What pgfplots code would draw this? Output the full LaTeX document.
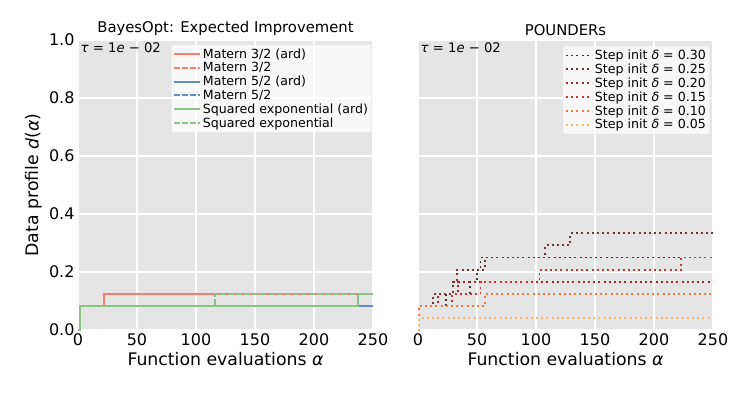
\documentclass[border=0pt]{standalone}
\usepackage{fontspec}
\setmainfont{DejaVu Sans}
\usepackage{pgfplots}
\pgfplotsset{compat=1.18}

\definecolor{bggray}{HTML}{E5E5E5}
\definecolor{mat3}{RGB}{248,124,108}
\definecolor{mat5}{RGB}{96,140,196}
\definecolor{sqexp}{RGB}{140,194,138}
\definecolor{dA}{RGB}{58,52,52}
\definecolor{dB}{RGB}{110,52,52}
\definecolor{dC}{RGB}{160,40,45}
\definecolor{dD}{RGB}{215,45,55}
\definecolor{dE}{RGB}{244,120,58}
\definecolor{dF}{RGB}{253,182,110}

\pgfplotsset{
  ggplot/.style={
    scale only axis, width=295pt, height=290pt,
    xmin=0, xmax=250, ymin=0, ymax=1,
    axis background/.style={fill=bggray},
    axis line style={draw=none},
    grid=major, major grid style={white, line width=1.1pt},
    major tick length=0pt,
    xtick={0,50,...,250}, ytick={0,0.2,0.4,0.6,0.8,1.0},
    /pgf/number format/assume math mode=true,
    tick label style={font=\fontsize{16}{18}\selectfont},
    yticklabel style={/pgf/number format/fixed, /pgf/number format/fixed zerofill,
      /pgf/number format/precision=1},
    label style={font=\fontsize{17.3}{20}\selectfont},
    xlabel={Function evaluations \textit{α}},
    title style={font=\fontsize{14.8}{17}\selectfont, yshift=-5pt},
    legend cell align=left,
    legend style={fill=white, fill opacity=0.7, text opacity=1, draw=black!12,
      rounded corners=2pt, font=\fontsize{12.6}{14}\selectfont,
      row sep=-1.2pt, inner sep=2pt},
    legend image code/.code={\draw[#1] (0pt,0pt) -- (26pt,0pt);},
  },
  solidln/.style={const plot, line width=1.8pt, solid},
  dashln/.style={const plot, line width=1.8pt, dash pattern=on 5.5pt off 2.6pt},
  dotln/.style={const plot, line width=1.9pt, dash pattern=on 2pt off 3.2pt},
}

\begin{document}
\begin{tikzpicture}
\useasboundingbox (0,0) rectangle (747pt,394pt);

\begin{axis}[ggplot, at={(78pt,64pt)}, anchor=south west,
  title={BayesOpt: Expected Improvement},
  ylabel={Data profile \textit{d}(\textit{α})},
  legend style={at={(rel axis cs:0.997,0.985)}, anchor=north east}]
\addplot[mat3, solidln] coordinates {(0,0) (1.5,0.0833) (22,0.125) (250,0.125)};
\addlegendentry{Matern 3/2 (ard)}
\addplot[mat3, dashln] coordinates {(0,0) (1.5,0.0833) (22,0.125) (250,0.125)};
\addlegendentry{Matern 3/2}
\addplot[mat5, solidln] coordinates {(0,0) (1.5,0.0833) (250,0.0833)};
\addlegendentry{Matern 5/2 (ard)}
\addplot[mat5, dashln] coordinates {(0,0) (1.5,0.0833) (250,0.0833)};
\addlegendentry{Matern 5/2}
\addplot[sqexp, solidln] coordinates {(0,0) (1.5,0.0833) (237,0.125) (250,0.125)};
\addlegendentry{Squared exponential (ard)}
\addplot[sqexp, dashln] coordinates {(0,0) (1.5,0.0833) (116,0.125) (250,0.125)};
\addlegendentry{Squared exponential}
\node[anchor=north west, font=\fontsize{13.2}{15}\selectfont, inner sep=1pt]
  at (rel axis cs:0.005,0.995) {\textit{τ} = 1\textit{e} − 02};
\end{axis}

\begin{axis}[ggplot, at={(418pt,64pt)}, anchor=south west,
  title={POUNDERs}, yticklabels={},
  legend style={at={(rel axis cs:0.99,0.98)}, anchor=north east}]
\addplot[dA, dotln] coordinates {(0,0) (1,0.0833) (24,0.125) (44,0.1667) (50,0.2083) (53,0.25) (250,0.25)};
\addlegendentry{Step init \textit{δ} = 0.30}
\addplot[dB, dotln] coordinates {(0,0) (1,0.0833) (13,0.125) (30,0.1667) (33,0.2083) (57,0.25) (108,0.2917) (129,0.3333) (250,0.3333)};
\addlegendentry{Step init \textit{δ} = 0.25}
\addplot[dC, dotln] coordinates {(0,0) (1,0.0833) (17,0.125) (34,0.1667) (250,0.1667)};
\addlegendentry{Step init \textit{δ} = 0.20}
\addplot[dD, dotln] coordinates {(0,0) (1,0.0833) (29,0.125) (53,0.1667) (103,0.2083) (223,0.25) (250,0.25)};
\addlegendentry{Step init \textit{δ} = 0.15}
\addplot[dE, dotln] coordinates {(0,0) (1,0.0833) (57,0.125) (250,0.125)};
\addlegendentry{Step init \textit{δ} = 0.10}
\addplot[dF, dotln] coordinates {(0,0) (1,0.0417) (250,0.0417)};
\addlegendentry{Step init \textit{δ} = 0.05}
\node[anchor=north west, font=\fontsize{13.2}{15}\selectfont, inner sep=1pt]
  at (rel axis cs:0.005,0.995) {\textit{τ} = 1\textit{e} − 02};
\end{axis}
\end{tikzpicture}
\end{document}
